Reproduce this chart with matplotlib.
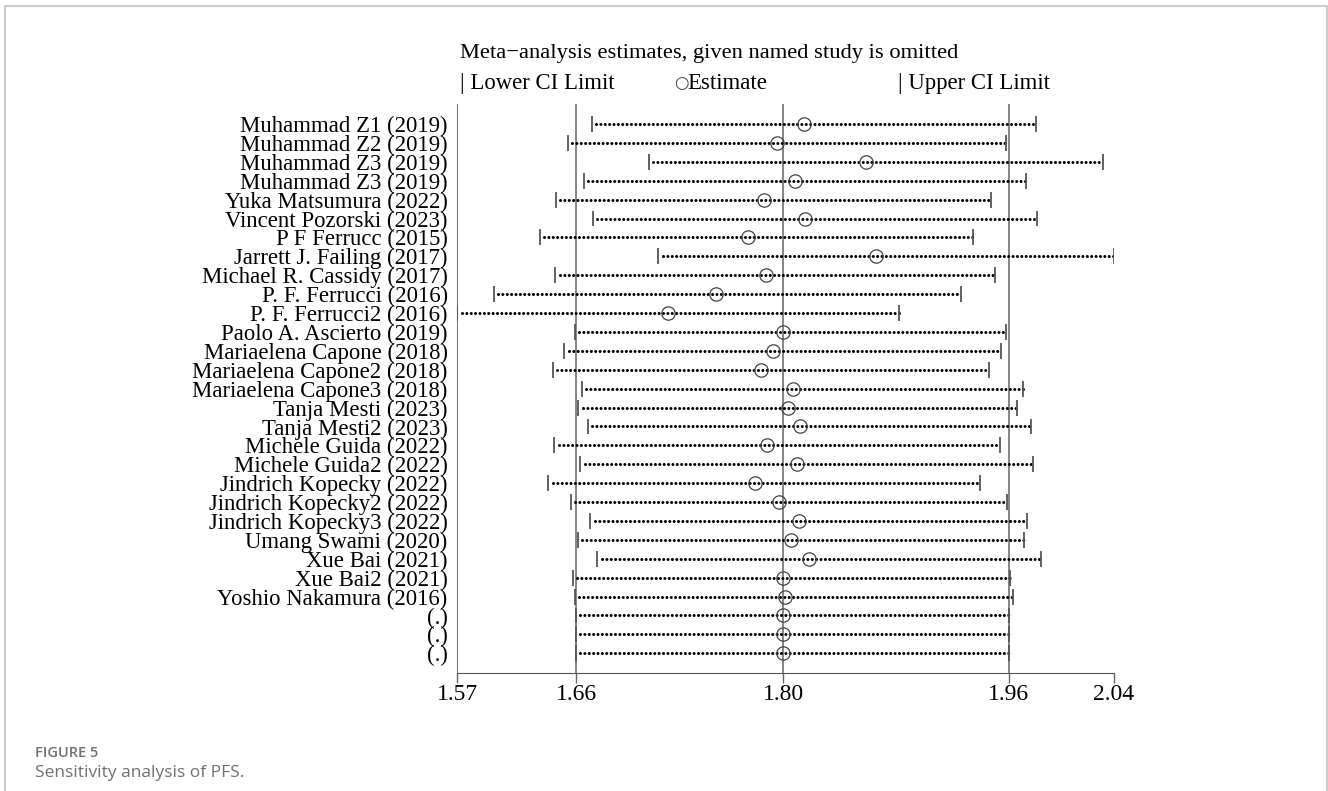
import numpy as np
import matplotlib.pyplot as plt
from matplotlib.lines import Line2D

##~~~~~~~~ Data ~~~~~~~~~~~~~~~~~~~~~~~~~~~~~~~~~~
studies = ["Muhammad Z1 (2019)", "Muhammad Z2 (2019)", "Muhammad Z3 (2019)",
           "Muhammad Z3 (2019)", "Yuka Matsumura (2022)", "Vincent Pozorski (2023)",
           "P F Ferrucc (2015)", "Jarrett J. Failing (2017)", "Michael R. Cassidy (2017)",
           "P. F. Ferrucci (2016)", "P. F. Ferrucci2 (2016)", "Paolo A. Ascierto (2019)",
           "Mariaelena Capone (2018)", "Mariaelena Capone2 (2018)", "Mariaelena Capone3 (2018)",
           "Tanja Mesti (2023)", "Tanja Mesti2 (2023)", "Michele Guida (2022)",
           "Michele Guida2 (2022)", "Jindrich Kopecky (2022)", "Jindrich Kopecky2 (2022)",
           "Jindrich Kopecky3 (2022)", "Umang Swami (2020)", "Xue Bai (2021)",
           "Xue Bai2 (2021)", "Yoshio Nakamura (2016)", "(.)", "(.)", "(.)"]
lower = [1.6671, 1.6498, 1.7078, 1.6616, 1.6414, 1.6679, 1.6302, 1.7145, 1.6410,
         1.5972, 1.5710, 1.6548, 1.6474, 1.6391, 1.6598, 1.6574, 1.6641, 1.6402,
         1.6588, 1.6360, 1.6519, 1.6659, 1.6569, 1.6709, 1.6536, 1.6548,
         1.6557, 1.6557, 1.6557]
estimate = [1.8185, 1.7994, 1.8627, 1.8122, 1.7899, 1.8190, 1.7783, 1.8698, 1.7911,
            1.7556, 1.7214, 1.8033, 1.7965, 1.7876, 1.8104, 1.8073, 1.8154, 1.7923,
            1.8132, 1.7835, 1.8008, 1.8149, 1.8092, 1.8222, 1.8033, 1.8049,
            1.8036, 1.8036, 1.8036]
upper = [1.9838, 1.9628, 2.0321, 1.9767, 1.9519, 1.9845, 1.9391, 2.0395, 1.9548,
         1.9307, 1.8863, 1.9628, 1.9593, 1.9503, 1.9750, 1.9705, 1.9805, 1.9584,
         1.9821, 1.9443, 1.9633, 1.9776, 1.9753, 1.9874, 1.9655, 1.9678,
         1.9646, 1.9646, 1.9646]
overall = [1.6557, 1.8036, 1.9646]	# pooled lower CI, estimate, upper CI
##~~~~~~~~~~~~~~~~~~~~~~~~~~~~~~~~~~~~~~~~~~~~~~~~~

plt.rcParams['font.family'] = ['Liberation Serif', 'DejaVu Sans']

fig = plt.figure(figsize=(13.28, 7.91), dpi=100)
ax = fig.add_axes([0.3444, 0.1488, 0.4942, 0.7197])

y = np.arange(1, len(studies) + 1)
for v in overall:
    ax.axvline(v, color='#707070', lw=1.2, zorder=1)

for yi, lo, hi in zip(y, lower, upper):
    ax.plot([lo + 0.003, hi], [yi, yi], color='black', lw=2.2,
            ls=(0, (0.01, 1.42)), dash_capstyle='round', zorder=2)
ax.vlines(lower, y - 0.42, y + 0.42, color='#555555', lw=1.3, zorder=3)
ax.vlines(upper, y - 0.42, y + 0.42, color='#555555', lw=1.3, zorder=3)
ax.plot(estimate, y, 'o', ms=9.6, mfc='none', mec='#444444', mew=0.9, zorder=4)

xmin, xmax = min(lower), max(upper)
ax.set_xlim(xmin, xmax)
ax.set_ylim(len(studies) + 1.058, -0.058)
ticks = [xmin] + overall + [xmax]
ax.set_xticks(ticks)
ax.set_xticklabels(['%.2f' % t for t in ticks], fontsize=17)
ax.set_yticks(y)
ax.set_yticklabels(studies, fontsize=16.4)
ax.tick_params(axis='y', length=0, pad=7)
ax.tick_params(axis='x', length=7, width=1, color='#666666', pad=1)
for s in ['top', 'right']:
    ax.spines[s].set_visible(False)
ax.spines['left'].set_color('#777777')
ax.spines['bottom'].set_color('#555555')

# header and legend line
fig.text(0.3465, 0.932, 'Meta\u2212analysis estimates, given named study is omitted',
         fontsize=16.2, va='center')
fig.text(0.3465, 0.894, '| Lower CI Limit', fontsize=16.4, va='center')
fig.text(0.5075, 0.895, '\u25cb', fontsize=12, va='center', color='#444444',
         family=['DejaVu Sans'])
fig.text(0.5175, 0.894, 'Estimate', fontsize=16.4, va='center')
fig.text(0.676, 0.894, '| Upper CI Limit', fontsize=16.4, va='center')

# caption
fig.text(0.026, 0.048, 'FIGURE 5', fontsize=10.5, color='#707070', weight='semibold',
         family=['Open Sans'], va='center')
fig.text(0.026, 0.023, 'Sensitivity analysis of PFS.', fontsize=12.5, color='#707070',
         family=['Open Sans'], va='center')

# light frame around the figure
for xs, ys in [([0.004, 0.9993], [0.9924, 0.9924]),
               ([0.004, 0.004], [0.0, 0.9924]),
               ([0.9993, 0.9993], [0.0, 0.9924])]:
    fig.add_artist(Line2D(xs, ys, transform=fig.transFigure, color='#cccccc', lw=1.5))

plt.savefig('out.png', dpi=100)
